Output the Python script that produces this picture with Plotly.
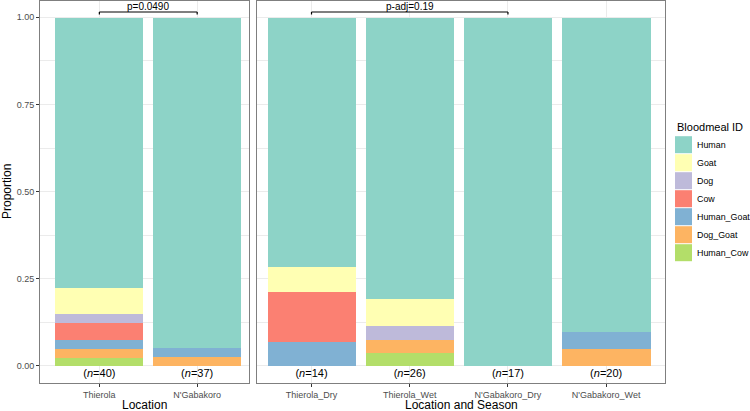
import plotly.graph_objects as go

# ---------------- data ----------------
species = ["Human", "Goat", "Dog", "Cow", "Human_Goat", "Dog_Goat", "Human_Cow"]
species_colors = ["#8DD3C7", "#FFFFB3", "#BEBADA", "#FB8072", "#80B1D3", "#FDB462", "#B3DE69"]

loc_categories = ["Thierola", "N'Gabakoro"]
loc_n = [40, 37]
loc_human = [31, 35]
loc_goat = [3, 0]
loc_dog = [1, 0]
loc_cow = [2, 0]
loc_human_goat = [1, 1]
loc_dog_goat = [1, 1]
loc_human_cow = [1, 0]

season_categories = ["Thierola_Dry", "Thierola_Wet", "N'Gabakoro_Dry", "N'Gabakoro_Wet"]
season_n = [14, 26, 17, 20]
season_human = [10, 21, 17, 18]
season_goat = [1, 2, 0, 0]
season_dog = [0, 1, 0, 0]
season_cow = [2, 0, 0, 0]
season_human_goat = [1, 0, 0, 1]
season_dog_goat = [0, 1, 0, 1]
season_human_cow = [0, 1, 0, 0]

loc_pvalue = "p=0.0490"
season_pvalue = "p-adj=0.19"

loc_counts = [loc_human, loc_goat, loc_dog, loc_cow, loc_human_goat, loc_dog_goat, loc_human_cow]
season_counts = [season_human, season_goat, season_dog, season_cow, season_human_goat,
                 season_dog_goat, season_human_cow]

# ---------------- figure ----------------
W, H = 750, 411
FONT = "Liberation Sans, Arial, sans-serif"
GRID = "#EBEBEB"
BORDER = "#7F7F7F"
TICKTXT = "#4D4D4D"


def px(x):
    return x / W


def py(y):
    return 1 - y / H


fig = go.Figure()

# stacked bars: bottom-most (last species) first
for i in reversed(range(len(species))):
    fig.add_trace(go.Bar(
        x=loc_categories,
        y=[c / n for c, n in zip(loc_counts[i], loc_n)],
        name=species[i], marker=dict(color=species_colors[i], line=dict(width=0)),
        width=0.9, xaxis="x", yaxis="y", showlegend=False, hoverinfo="skip"))
    fig.add_trace(go.Bar(
        x=season_categories,
        y=[c / n for c, n in zip(season_counts[i], season_n)],
        name=species[i], marker=dict(color=species_colors[i], line=dict(width=0)),
        width=0.9, xaxis="x2", yaxis="y2", showlegend=False, hoverinfo="skip"))

# n labels
fig.add_trace(go.Scatter(
    x=loc_categories, y=[-0.025] * len(loc_categories), mode="text",
    text=[f"(<i>n</i>={n})" for n in loc_n], textposition="middle center",
    textfont=dict(size=11, color="black", family=FONT),
    xaxis="x", yaxis="y", showlegend=False, hoverinfo="skip"))
fig.add_trace(go.Scatter(
    x=season_categories, y=[-0.025] * len(season_categories), mode="text",
    text=[f"(<i>n</i>={n})" for n in season_n], textposition="middle center",
    textfont=dict(size=11, color="black", family=FONT),
    xaxis="x2", yaxis="y2", showlegend=False, hoverinfo="skip"))

shapes = []
annotations = []

# significance brackets
def bracket(xref, yref, x0, x1, text):
    yb, yt = 1.008, 1.015
    shapes.append(dict(type="line", xref=xref, yref=yref, x0=x0, x1=x1, y0=yt, y1=yt,
                       line=dict(color="black", width=1.2)))
    for xx in (x0, x1):
        shapes.append(dict(type="line", xref=xref, yref=yref, x0=xx, x1=xx, y0=yb, y1=yt,
                           line=dict(color="black", width=1.2)))
    annotations.append(dict(xref=xref, yref=yref, x=(x0 + x1) / 2, y=1.031, text=text,
                            showarrow=False, font=dict(size=10, color="black", family=FONT),
                            xanchor="center", yanchor="middle"))


bracket("x", "y", 0, 1, loc_pvalue)
bracket("x2", "y2", 0, 2, season_pvalue)

# axis titles
annotations.append(dict(xref="paper", yref="paper", x=px(144.5), y=py(405), text="Location",
                        showarrow=False, font=dict(size=12, color="black", family=FONT),
                        xanchor="center", yanchor="middle"))
annotations.append(dict(xref="paper", yref="paper", x=px(461), y=py(405),
                        text="Location and Season", showarrow=False,
                        font=dict(size=12, color="black", family=FONT),
                        xanchor="center", yanchor="middle"))
annotations.append(dict(xref="paper", yref="paper", x=px(7), y=py(192), text="Proportion",
                        textangle=-90, showarrow=False,
                        font=dict(size=12, color="black", family=FONT),
                        xanchor="center", yanchor="middle"))

# legend (manual, ggplot style)
annotations.append(dict(xref="paper", yref="paper", x=px(674.5), y=py(127), text="Bloodmeal ID",
                        showarrow=False, font=dict(size=11, color="black", family=FONT),
                        xanchor="left", yanchor="middle"))
for i, (sp, col) in enumerate(zip(species, species_colors)):
    cy = 144.7 + 18 * i
    shapes.append(dict(type="rect", xref="paper", yref="paper",
                       x0=px(675), x1=px(692), y0=py(cy + 8.5), y1=py(cy - 8.5),
                       fillcolor=col, line=dict(width=0)))
    annotations.append(dict(xref="paper", yref="paper", x=px(694.5), y=py(cy), text=sp,
                            showarrow=False, font=dict(size=8.9, color="black", family=FONT),
                            xanchor="left", yanchor="middle"))

ydom = [1 - 382.7 / H, 1 - 0.5 / H]
yrange = [-0.048, 1.048]
ytick = [0, 0.25, 0.5, 0.75, 1.0]
ytext = ["0.00", "0.25", "0.50", "0.75", "1.00"]

common_x = dict(type="category", showgrid=True, gridcolor=GRID, gridwidth=1.1,
                ticks="outside", ticklen=3, tickwidth=1, tickcolor="#333333",
                tickfont=dict(size=9, color=TICKTXT, family=FONT),
                showline=True, mirror=True, linecolor=BORDER, linewidth=1,
                zeroline=False, fixedrange=True)
common_y = dict(range=yrange, tickvals=ytick, showgrid=True, gridcolor=GRID, gridwidth=1.1,
                minor=dict(dtick=0.125, tick0=0, showgrid=True, gridcolor=GRID, gridwidth=0.55),
                showline=True, mirror=True, linecolor=BORDER, linewidth=1,
                zeroline=False, domain=ydom, fixedrange=True)

fig.update_layout(
    width=W, height=H, margin=dict(l=0, r=0, t=0, b=0),
    paper_bgcolor="white", plot_bgcolor="white",
    barmode="stack", bargap=0, showlegend=False,
    font=dict(family=FONT),
    xaxis=dict(domain=[px(40), px(249)], range=[-0.607, 1.53], anchor="y", **common_x),
    xaxis2=dict(domain=[px(256.7), px(665)], range=[-0.558, 3.599], anchor="y2", **common_x),
    yaxis=dict(anchor="x", ticktext=ytext, ticks="outside", ticklen=3, tickwidth=1,
               tickcolor="#333333", tickfont=dict(size=9, color=TICKTXT, family=FONT),
               **common_y),
    yaxis2=dict(anchor="x2", showticklabels=False, ticks="", **common_y),
    shapes=shapes, annotations=annotations,
)

fig.write_html(
    "out.html",
    config={"displayModeBar": False},
    post_script="document.body.style.margin='0';document.body.style.overflow='hidden';",
)
